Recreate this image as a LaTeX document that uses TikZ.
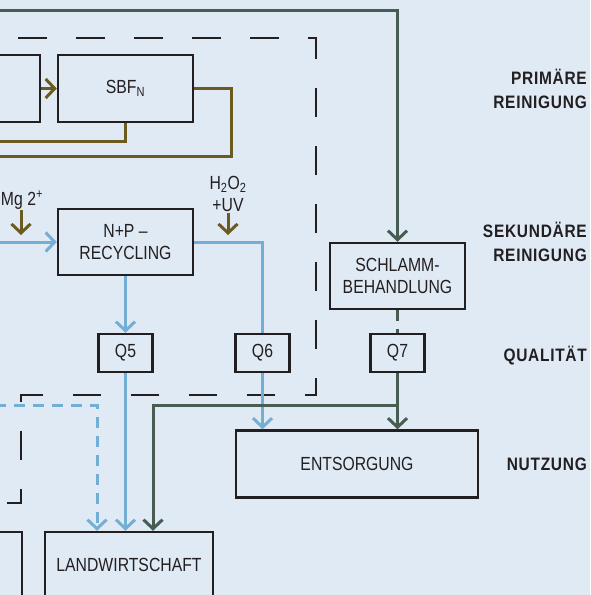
\documentclass[tikz,border=0pt]{standalone}
\usepackage{fontspec}
\setmainfont{Liberation Sans}
\newfontfamily\condfont[FakeStretch=0.83]{Liberation Sans}
\newfontfamily\stagefont[FakeStretch=0.86,LetterSpace=4]{Liberation Sans}
\usetikzlibrary{arrows.meta}
\definecolor{bgblue}{HTML}{DFEAF5}
\definecolor{sludge}{HTML}{475C52}
\definecolor{dosing}{HTML}{6C5B1F}
\definecolor{water}{HTML}{74AED4}
\definecolor{ink}{HTML}{231F20}

\begin{document}
\begin{tikzpicture}[x=1pt, y=-1pt,
    blk/.style={draw=ink, line width=2.5pt, align=center, text=ink,
                font=\condfont\fontsize{19}{22.5}\selectfont, inner sep=0pt},
    bigblk/.style={blk, minimum width=135pt, minimum height=67pt},
    qblk/.style={blk, minimum width=54pt, minimum height=38pt},
    stage/.style={anchor=east, align=right, text=ink, inner sep=0pt,
                  font=\stagefont\bfseries\fontsize{18}{23.5}\selectfont},
    lbl/.style={align=center, text=ink, inner sep=1pt,
                font=\condfont\fontsize{19}{22}\selectfont},
    tip/.style={-{Straight Barb[length=9pt,width=19pt]}},
    gline/.style={draw=sludge, line width=3pt},
    oline/.style={draw=dosing, line width=3pt},
    bline/.style={draw=water, line width=3pt},
    garr/.style={gline, tip},
    oarr/.style={oline, tip},
    barr/.style={bline, tip},
    bdash/.style={barr, dash pattern=on 11pt off 8pt},
    bound/.style={draw=ink, line width=2.5pt, dash pattern=on 28.5pt off 29.5pt,
                  dash phase=48pt},
  ]
    \useasboundingbox (0,0) rectangle (590,595);
    \fill[bgblue] (0,0) rectangle (590,595);
    \clip (0,0) rectangle (590,595);

    % Nodes -- primary stage
    \node[bigblk] (src) at (-27.5,88.5) {};
    \node[bigblk] (sbf) at (125.5,88.5) {SBF\textsubscript{N}};

    % Nodes -- secondary stage
    \node[lbl] (mg)   at (22,200)  {Mg 2\textsuperscript{+}};
    \node[lbl] (h2o2) at (228,194) {H\textsubscript{2}O\textsubscript{2}\\+UV};
    \node[bigblk, minimum height=66pt] (nprec)   at (125.5,242)
      {N+P –\\RECYCLING};
    \node[bigblk, minimum height=66pt] (schlamm) at (397.5,276)
      {SCHLAMM-\\BEHANDLUNG};

    % Nodes -- quality
    \node[qblk] (q5) at (125.5,353) {Q5};
    \node[qblk] (q6) at (262.5,353) {Q6};
    \node[qblk] (q7) at (397.5,353) {Q7};

    % Nodes -- use
    \node[blk, minimum width=242pt, minimum height=67pt] (entsorg) at (357,464)
      {ENTSORGUNG};
    \node[blk, minimum width=168pt, minimum height=66pt] (farmleft) at (-62,565) {};
    \node[blk, minimum width=168pt, minimum height=66pt] (landw) at (129,565)
      {LANDWIRTSCHAFT};

    % Stage labels
    \node[stage] (prim) at (587,89)  {PRIMÄRE\\REINIGUNG};
    \node[stage] (sek)  at (587,242) {SEKUNDÄRE\\REINIGUNG};
    \node[stage] (qual) at (587,356) {QUALITÄT};
    \node[stage] (nutz) at (587,464) {NUTZUNG};

    % Free ends and bends
    \coordinate (sludgein)   at (-5,10);
    \coordinate (retA)       at (-5,141);
    \coordinate (retB)       at (231,156);
    \coordinate (retC)       at (-5,156);
    \coordinate (waterin)    at (-5,242);
    \coordinate (bypass)     at (-5,405);
    \coordinate (bypassturn) at (97,405);
    \coordinate (sludgeturn) at (153,405);
    \coordinate (mgtip)      at (21,235);
    \coordinate (uvtip)      at (228,235);

    % Plant boundary
    \draw[bound] (-50,38) -- (316,38) -- (316,395) -- (21,395) -- (21,503) -- (-50,503);

    % Connections
    \draw[garr] (sludgein) -| (schlamm.north);
    \draw[oarr] (src.east) -- (sbf.west);
    \draw[oline] (sbf.south) |- (retA);
    \draw[oline] (sbf.east) -| (retB) -- (retC);
    \draw[oarr] (mg.south -| mgtip) -- (mgtip);
    \draw[oarr] (h2o2.south -| uvtip) -- (uvtip);
    \draw[barr] (waterin) -- (nprec.west);
    \draw[barr] (nprec.south) -- (q5.north);
    \draw[bline] (nprec.east) -| (q6.north);
    \draw[barr] (q5.south) -- (q5.south |- landw.north);
    \draw[barr] (q6.south) -- (q6.south |- entsorg.north);
    \draw[bdash] (bypass) -- (bypassturn) -- (bypassturn |- landw.north);
    \draw[gline, dash pattern=on 11pt off 8pt] (schlamm.south) -- (q7.north);
    \draw[garr] (q7.south) -- (q7.south |- entsorg.north);
    \draw[garr] (q7.south) |- (sludgeturn) -- (sludgeturn |- landw.north);
  \end{tikzpicture}
\end{document}
